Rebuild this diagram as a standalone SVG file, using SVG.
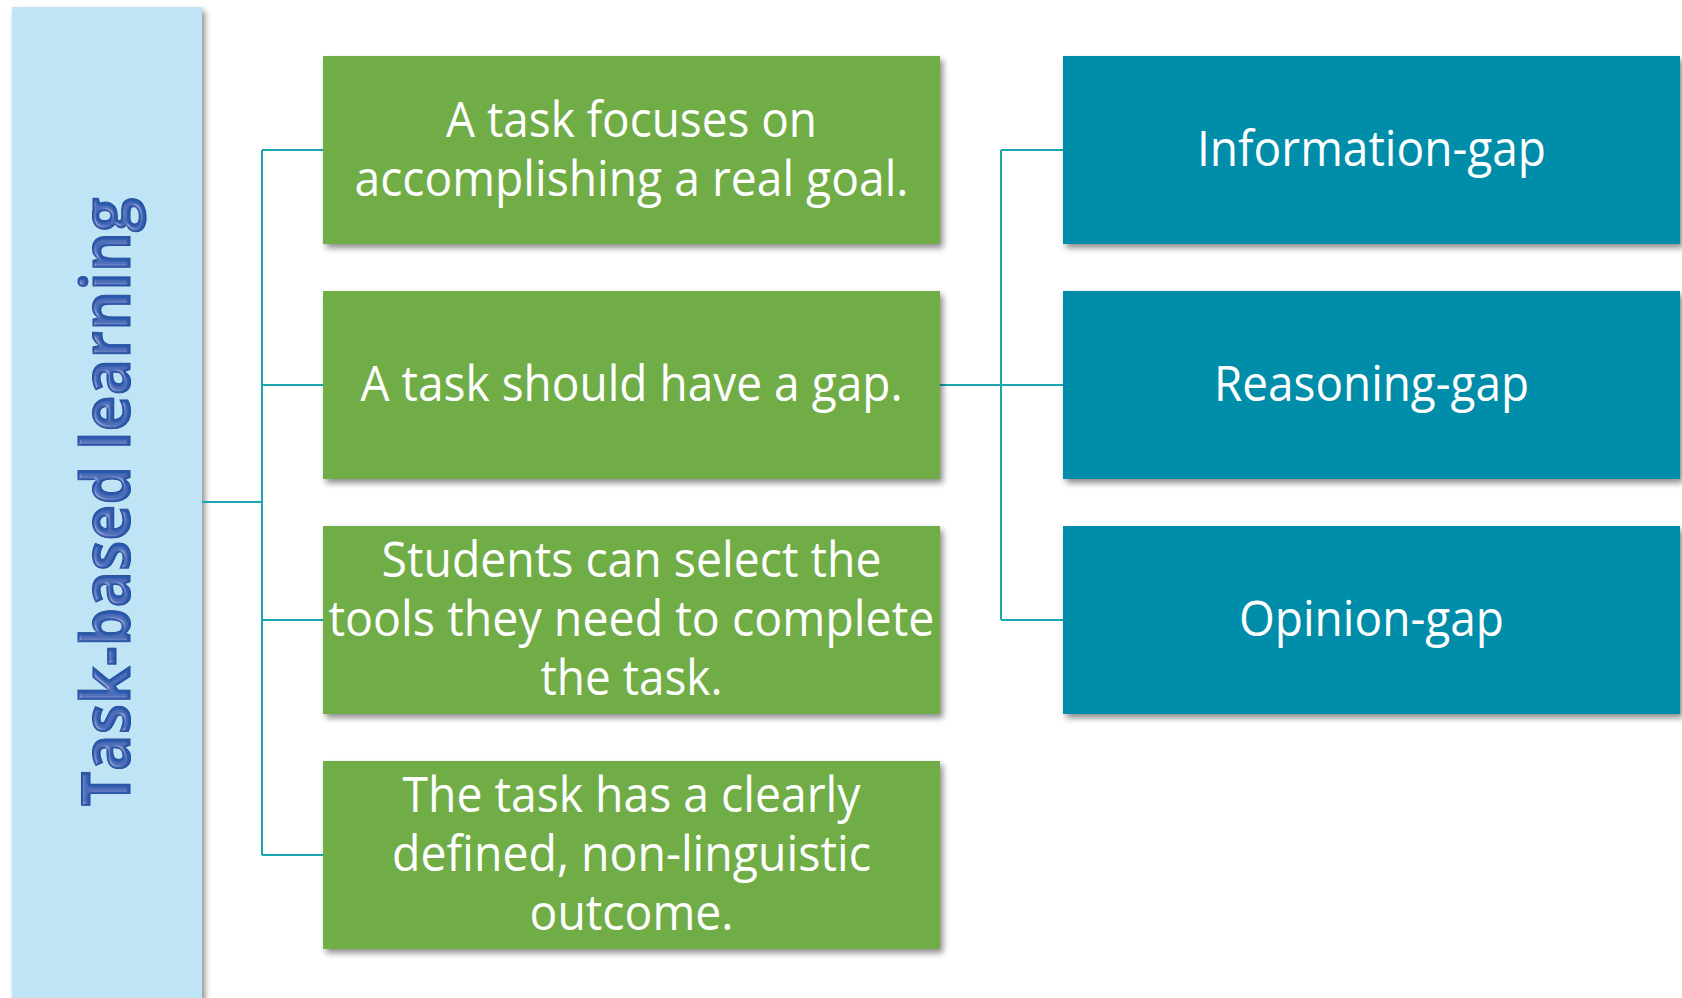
<svg xmlns="http://www.w3.org/2000/svg" width="1682" height="998" viewBox="0 0 1682 998">
  <defs>
    <filter id="shadow" x="-5%" y="-5%" width="112%" height="115%">
      <feGaussianBlur in="SourceAlpha" stdDeviation="3"/>
      <feOffset dx="3" dy="4" result="b"/>
      <feComponentTransfer><feFuncA type="linear" slope="0.45"/></feComponentTransfer>
      <feMerge><feMergeNode/><feMergeNode in="SourceGraphic"/></feMerge>
    </filter>
    <filter id="bevel" x="-5%" y="-5%" width="110%" height="110%">
      <feGaussianBlur in="SourceAlpha" stdDeviation="1.5" result="blur"/>
      <feSpecularLighting in="blur" surfaceScale="3" specularConstant="0.7" specularExponent="20" lighting-color="#ffffff" result="spec">
        <feDistantLight azimuth="225" elevation="45"/>
      </feSpecularLighting>
      <feComposite in="spec" in2="SourceAlpha" operator="in" result="specIn"/>
      <feComposite in="SourceGraphic" in2="specIn" operator="arithmetic" k1="0" k2="1" k3="0.35" k4="0"/>
    </filter>
  </defs>
  <style>
    .green { fill: #70AD47; }
    .blue { fill: #028DA9; }
    .panel { fill: #BFE4F6; }
    .lbl { font-family: "Open Sans", "Noto Sans", "Liberation Sans", sans-serif; font-size: 49px; fill: #FFFFFF; text-anchor: middle; }
    .title { font-family: "Open Sans", "Noto Sans", "Liberation Sans", sans-serif; font-size: 68px; font-weight: bold; fill: #2C5AAE; stroke: #214B98; stroke-width: 1; text-anchor: middle; }
    .conn { fill: none; stroke: #1AA7AF; stroke-width: 2; }
  </style>
  <rect width="1682" height="998" fill="#FFFFFF"/>

  <g id="root-panel">
    <rect class="panel" x="12" y="7" width="190" height="1000" filter="url(#shadow)"/>
    <text class="title" transform="translate(130,502) rotate(-90)" x="0" y="0" textLength="609" lengthAdjust="spacingAndGlyphs" filter="url(#bevel)">Task-based learning</text>
  </g>

  <g id="connectors">
    <path class="conn" d="M202,502 H262 M262,150 V855 M262,150 H323 M262,385 H323 M262,620 H323 M262,855 H323"/>
    <path class="conn" d="M940,385 H1001 M1001,150 V620 M1001,150 H1063 M1001,385 H1063 M1001,620 H1063"/>
  </g>

  <g id="node-goal">
    <rect class="green" x="323" y="56" width="617" height="188" filter="url(#shadow)"/>
    <text class="lbl" x="631.5" y="137" textLength="371" lengthAdjust="spacingAndGlyphs">A task focuses on</text>
    <text class="lbl" x="631.5" y="196" textLength="554" lengthAdjust="spacingAndGlyphs">accomplishing a real goal.</text>
  </g>

  <g id="node-gap">
    <rect class="green" x="323" y="291" width="617" height="188" filter="url(#shadow)"/>
    <text class="lbl" x="631.5" y="401" textLength="542" lengthAdjust="spacingAndGlyphs">A task should have a gap.</text>
  </g>

  <g id="node-tools">
    <rect class="green" x="323" y="526" width="617" height="188" filter="url(#shadow)"/>
    <text class="lbl" x="631.5" y="577" textLength="500" lengthAdjust="spacingAndGlyphs">Students can select the</text>
    <text class="lbl" x="631.5" y="636" textLength="606" lengthAdjust="spacingAndGlyphs">tools they need to complete</text>
    <text class="lbl" x="631.5" y="695" textLength="182" lengthAdjust="spacingAndGlyphs">the task.</text>
  </g>

  <g id="node-outcome">
    <rect class="green" x="323" y="761" width="617" height="188" filter="url(#shadow)"/>
    <text class="lbl" x="631.5" y="812" textLength="458" lengthAdjust="spacingAndGlyphs">The task has a clearly</text>
    <text class="lbl" x="631.5" y="871" textLength="479" lengthAdjust="spacingAndGlyphs">defined, non-linguistic</text>
    <text class="lbl" x="631.5" y="930" textLength="204" lengthAdjust="spacingAndGlyphs">outcome.</text>
  </g>

  <g id="node-information-gap">
    <rect class="blue" x="1063" y="56" width="617" height="188" filter="url(#shadow)"/>
    <text class="lbl" x="1371.5" y="166" textLength="349" lengthAdjust="spacingAndGlyphs">Information-gap</text>
  </g>

  <g id="node-reasoning-gap">
    <rect class="blue" x="1063" y="291" width="617" height="188" filter="url(#shadow)"/>
    <text class="lbl" x="1371.5" y="401" textLength="315" lengthAdjust="spacingAndGlyphs">Reasoning-gap</text>
  </g>

  <g id="node-opinion-gap">
    <rect class="blue" x="1063" y="526" width="617" height="188" filter="url(#shadow)"/>
    <text class="lbl" x="1371.5" y="636" textLength="265" lengthAdjust="spacingAndGlyphs">Opinion-gap</text>
  </g>
</svg>
